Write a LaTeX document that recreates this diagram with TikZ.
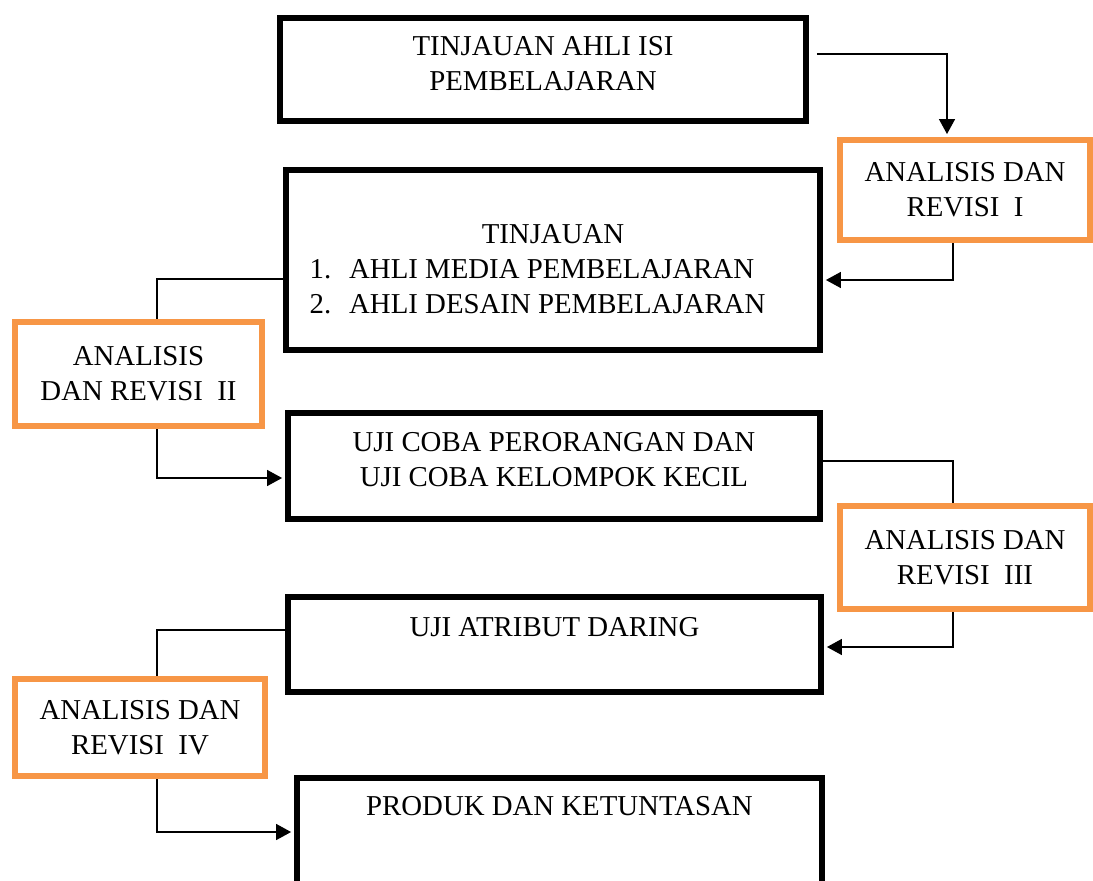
\documentclass[tikz,border=0pt]{standalone}
\usepackage{fontspec}
\setmainfont{Liberation Serif}
\usetikzlibrary{positioning,arrows.meta,backgrounds}
\definecolor{oranyeRevisi}{HTML}{F79646}

\begin{document}
\begin{tikzpicture}[x=0.02cm, y=-0.02cm,
    font=\fontsize{16.4}{20}\selectfont,
    kotak/.style={draw, line width=3.4pt, align=center},
    revisi/.style={draw=oranyeRevisi, line width=3.4pt, align=center,
      minimum width=5cm},
    garis/.style={line width=0.8pt},
    panah/.style={garis, -{Triangle[length=0.3cm, width=0.32cm]}, shorten >=1.7pt}]
    \useasboundingbox (0,0) rectangle (1093,880);

    % kotak tahap
    \node[kotak, minimum width=10.52cm, minimum height=2.06cm,
      text height=0.9cm, text depth=0.75cm] (ahliIsi) at (543,69.5)
      {\begin{tabular}{@{}c@{}}TINJAUAN AHLI ISI\\ PEMBELAJARAN\end{tabular}};
    \node[kotak, minimum width=10.68cm, minimum height=3.6cm,
      text height=1.9cm, text depth=1.14cm] (ahliMedia) at (553,260)
      {\begin{tabular}{@{}l@{\hspace{0.36cm}}l@{}}
        \multicolumn{2}{c}{\hspace*{0.62cm}TINJAUAN}\\
        1. & AHLI MEDIA PEMBELAJARAN\\
        2. & AHLI DESAIN PEMBELAJARAN
      \end{tabular}\hspace*{0.62cm}};
    \node[kotak, minimum width=10.64cm, minimum height=2.12cm,
      text height=0.9cm, text depth=0.77cm] (ujiCoba) at (554,466)
      {\begin{tabular}{@{}c@{}}UJI COBA PERORANGAN DAN\\ UJI COBA KELOMPOK KECIL\end{tabular}};
    \node[kotak, minimum width=10.66cm, minimum height=1.9cm,
      text height=0.4cm, text depth=0.74cm] (ujiDaring) at (554.5,644.5)
      {UJI ATRIBUT DARING};
    \node[kotak, minimum width=10.5cm, minimum height=2.44cm,
      text height=0.4cm, text depth=1.36cm] (produk) at (559.5,839)
      {PRODUK DAN KETUNTASAN};

    % kotak analisis dan revisi
    \node[revisi, minimum height=2cm] (revI) at (965,190)
      {ANALISIS DAN\\ REVISI\ \ I};
    \node[revisi, minimum width=4.94cm, minimum height=2.08cm] (revII) at (138.5,374)
      {ANALISIS\\ DAN REVISI\ \ II};
    \node[revisi, minimum height=2.06cm] (revIII) at (965,557.5)
      {ANALISIS DAN\\ REVISI\ \ III};
    \node[revisi, minimum height=1.94cm] (revIV) at (140,727.5)
      {ANALISIS DAN\\ REVISI\ \ IV};

    \begin{scope}[on background layer]
      \draw[panah] ([shift={(0.16cm,0.31cm)}]ahliIsi.east) -| ([xshift=-0.36cm]revI.north);
      \draw[panah] ([xshift=-0.24cm]revI.south) |- ([yshift=-0.4cm]ahliMedia.east);
      \draw[garis] ([yshift=-0.38cm]ahliMedia.west) -| ([xshift=0.37cm]revII.north);
      \draw[panah] ([xshift=0.37cm]revII.south) |- ([yshift=-0.24cm]ujiCoba.west);
      \draw[garis] ([yshift=0.1cm]ujiCoba.east) -| ([xshift=-0.24cm]revIII.north);
      \draw[panah] ([xshift=-0.24cm]revIII.south) |- ([yshift=-0.05cm]ujiDaring.east);
      \draw[garis] ([yshift=0.29cm]ujiDaring.west) -| ([xshift=0.34cm]revIV.north);
      \draw[panah] ([xshift=0.34cm]revIV.south) |- ([yshift=0.14cm]produk.west);
    \end{scope}
  \end{tikzpicture}
\end{document}
